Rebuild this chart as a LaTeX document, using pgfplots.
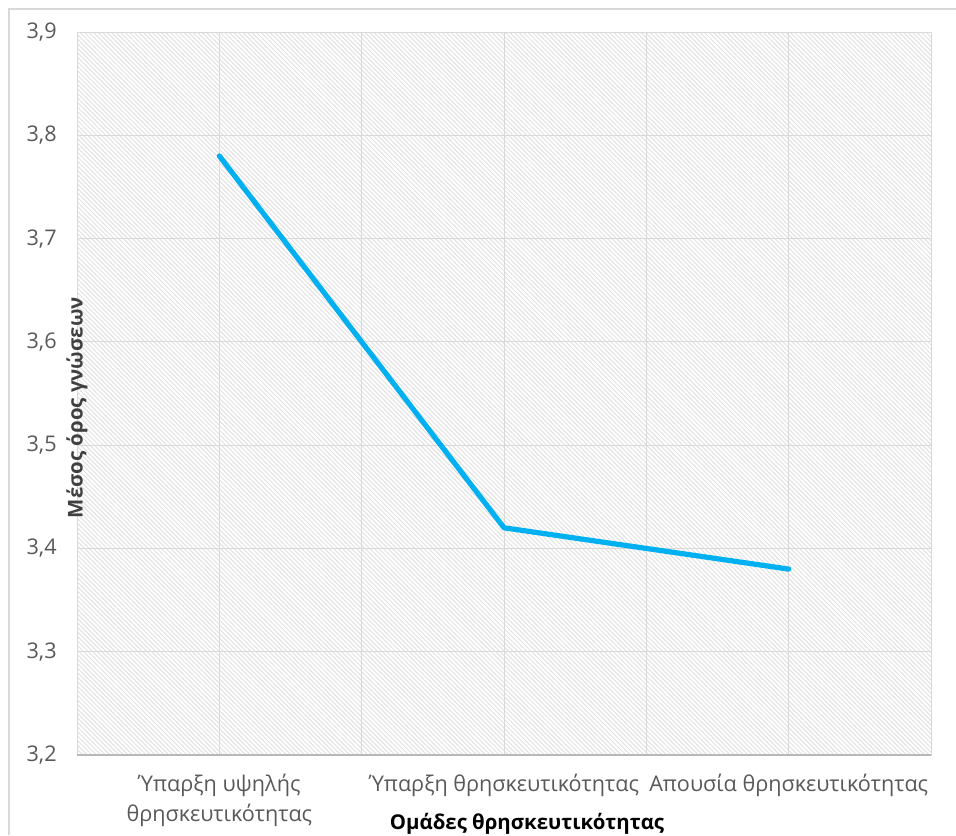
\documentclass[border=0pt]{standalone}
\usepackage{fontspec}
\setmainfont{Open Sans}
\usepackage{pgfplots}
\pgfplotsset{compat=1.18}
\usetikzlibrary{patterns.meta}

\definecolor{linecol}{RGB}{0,176,240}
\definecolor{gridcol}{RGB}{217,217,217}
\definecolor{hatchcol}{RGB}{224,224,224}
\definecolor{txtcol}{RGB}{89,89,89}
\definecolor{ylabcol}{RGB}{64,64,64}

\begin{document}
\begin{tikzpicture}
% page = 956x835 px at 0.5pt per px, origin at the axis's lower left corner
\useasboundingbox (-38.5pt,-40pt) rectangle (439.5pt,377.5pt);
\draw[gridcol, line width=0.8pt] (-34pt,-40pt) -- (-34pt,373pt) -- (439.5pt,373pt);
\begin{axis}[
    scale only axis,
    width=427pt,
    height=361.5pt,
    xmin=-0.5, xmax=2.5,
    ymin=3.2, ymax=3.9,
    xtick={0,1,2},
    xticklabels={{Ύπαρξη υψηλής\\θρησκευτικότητας},{Ύπαρξη θρησκευτικότητας},{Απουσία θρησκευτικότητας}},
    minor xtick={0.5,1.5},
    ytick={3.2,3.3,3.4,3.5,3.6,3.7,3.8,3.9},
    xmajorgrids, xminorgrids, ymajorgrids,
    grid style={gridcol, line width=0.5pt},
    minor grid style={gridcol, line width=0.5pt},
    major tick length=0pt, minor tick length=0pt,
    axis line style={gridcol, line width=0.5pt},
    axis background/.style={pattern={Lines[angle=-45, distance=1.6pt, line width=0.5pt]}, pattern color=hatchcol},
    extra y ticks={3.2},
    extra y tick labels={},
    extra y tick style={grid style={gridcol!85!black, line width=1pt}},
    /pgf/number format/use comma,
    /pgf/number format/fixed,
    /pgf/number format/fixed zerofill,
    /pgf/number format/precision=1,
    /pgf/number format/assume math mode=true,
    yticklabel style={font=\fontsize{10.8}{13}\selectfont, text=txtcol, anchor=east, inner sep=0pt, xshift=-10pt},
    xticklabel style={font=\fontsize{10.8}{15}\selectfont, text=txtcol, align=center, anchor=north, inner sep=0pt, yshift=-9.5pt},
    xlabel={Ομάδες θρησκευτικότητας},
    xlabel style={font=\fontsize{10.2}{13}\selectfont\bfseries, text=black, at={(rel axis cs:0.527,0)}, anchor=base, yshift=-37pt},
    ylabel={Μέσος όρος γνώσεων},
    ylabel style={font=\fontsize{10.2}{13}\selectfont\bfseries, text=ylabcol, at={(rel axis cs:0,0.5)}, anchor=center, xshift=-7pt},
    clip=false,
]
\addplot[linecol, line width=2.6pt, line cap=round, line join=round] coordinates {
    (0, 3.78) (1, 3.42) (2, 3.38)
};
\end{axis}
\end{tikzpicture}
\end{document}
